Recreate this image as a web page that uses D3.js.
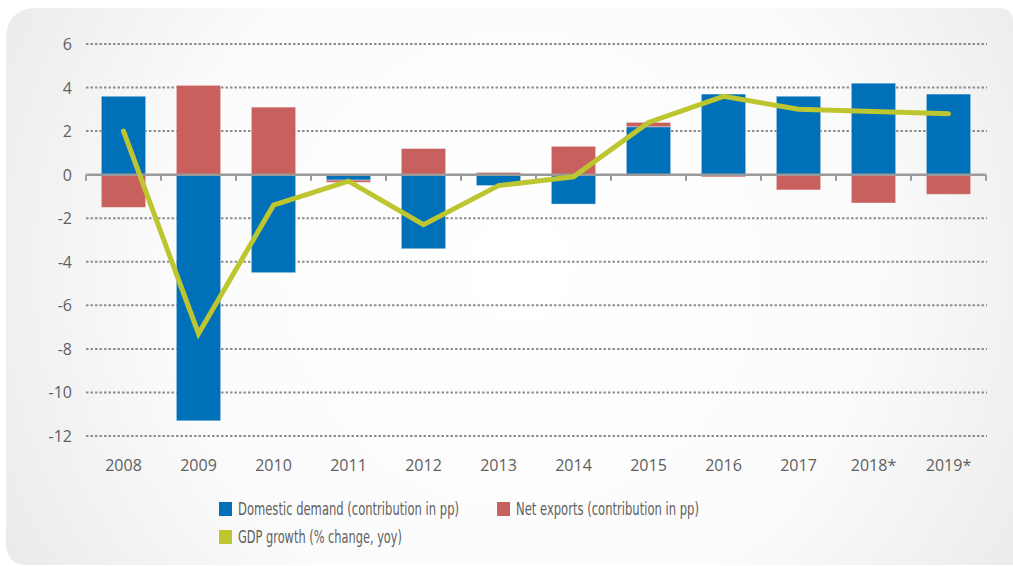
<!DOCTYPE html>
<html>
<head>
<meta charset="utf-8">
<script src="https://cdn.jsdelivr.net/npm/d3@7"></script>
<style>
  html, body { margin: 0; padding: 0; background: #ffffff; }
  svg { display: block; }
</style>
</head>
<body>
<svg id="chart" width="1013" height="566"></svg>
<script>
// ---- data ----
const years = ["2008", "2009", "2010", "2011", "2012", "2013", "2014", "2015", "2016", "2017", "2018*", "2019*"];
const domesticDemand = [3.6, -11.3, -4.5, -0.25, -3.4, -0.5, -1.35, 2.2, 3.7, 3.6, 4.2, 3.7];
const netExports = [-1.5, 4.1, 3.1, -0.1, 1.2, 0.1, 1.3, 0.2, -0.1, -0.7, -1.3, -0.9];
const gdpGrowth = [2.0, -7.3, -1.4, -0.3, -2.3, -0.5, -0.1, 2.4, 3.6, 3.0, 2.9, 2.8];
const yTicks = [6, 4, 2, 0, -2, -4, -6, -8, -10, -12];
const legendLabels = ["Domestic demand (contribution in pp)", "Net exports (contribution in pp)", "GDP growth (% change, yoy)"];

const colors = { domestic: "#0070b9", net: "#c8605d", gdp: "#bec62f" };
const labelFont = "'Open Sans', 'Noto Sans', sans-serif";
const legendFont = "'Liberation Sans Narrow', 'DejaVu Sans Condensed', 'Open Sans', sans-serif";

const svg = d3.select("#chart");

// ---- background panel ----
const defs = svg.append("defs");
const grad = defs.append("radialGradient")
  .attr("id", "bg").attr("gradientUnits", "userSpaceOnUse")
  .attr("cx", 520).attr("cy", 270).attr("r", 640);
grad.append("stop").attr("offset", "0").attr("stop-color", "#ffffff");
grad.append("stop").attr("offset", "0.55").attr("stop-color", "#fbfbfb");
grad.append("stop").attr("offset", "1").attr("stop-color", "#e6e7e8");

const px0 = 6, py0 = 8, px1 = 1013, py1 = 565;
const rTL = 32, rTR = 14, rBL = 22;
const panel = d3.path();
panel.moveTo(px0 + rTL, py0);
panel.lineTo(px1 - rTR, py0);
panel.quadraticCurveTo(px1, py0, px1, py0 + rTR);
panel.lineTo(px1, py1);
panel.lineTo(px0 + rBL, py1);
panel.quadraticCurveTo(px0, py1, px0, py1 - rBL);
panel.lineTo(px0, py0 + rTL);
panel.quadraticCurveTo(px0, py0, px0 + rTL, py0);
panel.closePath();
svg.append("path").attr("d", panel.toString()).attr("fill", "url(#bg)");

// ---- scales ----
const x0 = 86, x1 = 986;
const x = d3.scaleBand().domain(years).range([x0, x1]).paddingInner(0.41).paddingOuter(0.205);
const y = d3.scaleLinear().domain([-12, 6]).range([436, 44]);
const step = x.step();

// ---- grid lines ----
const grid = svg.append("g");
grid.selectAll("line").data(yTicks.filter(d => d !== 0)).join("line")
  .attr("x1", x0).attr("x2", x1 + 1)
  .attr("y1", d => y(d)).attr("y2", d => y(d))
  .attr("stroke", "#8e8e8e").attr("stroke-width", 2)
  .attr("stroke-dasharray", "2.5,2");

// ---- y labels ----
svg.append("g").selectAll("text").data(yTicks).join("text")
  .attr("x", 72).attr("y", d => y(d) + 6)
  .attr("text-anchor", "end")
  .attr("font-family", labelFont).attr("font-size", 16)
  .attr("fill", "#5f5f5f")
  .text(d => d < 0 ? "-" + Math.abs(d) : d);

// ---- stacked bars ----
const rows = years.map((yr, i) => ({ year: yr, domestic: domesticDemand[i], net: netExports[i] }));
const stack = d3.stack().keys(["domestic", "net"]).offset(d3.stackOffsetDiverging);
const series = stack(rows);
svg.append("g").selectAll("g").data(series).join("g")
  .attr("fill", d => colors[d.key])
  .selectAll("rect").data(d => d).join("rect")
  .attr("x", d => x(d.data.year))
  .attr("width", x.bandwidth())
  .attr("y", d => y(Math.max(d[0], d[1])))
  .attr("height", d => Math.abs(y(d[0]) - y(d[1])))
  .attr("stroke", "#ffffff").attr("stroke-opacity", 0.35).attr("stroke-width", 1);

// ---- zero axis ----
const axisG = svg.append("g");
axisG.append("line")
  .attr("x1", x0).attr("x2", x1)
  .attr("y1", y(0)).attr("y2", y(0))
  .attr("stroke", "#9a9a9a").attr("stroke-width", 2.5);
const boundaries = d3.range(years.length + 1).map(i => x0 + i * step);
axisG.selectAll("line.tick").data(boundaries).join("line")
  .attr("class", "tick")
  .attr("x1", d => d).attr("x2", d => d)
  .attr("y1", y(0)).attr("y2", y(0) + 6)
  .attr("stroke", "#9a9a9a").attr("stroke-width", 2);

// ---- x labels ----
svg.append("g").selectAll("text").data(years).join("text")
  .attr("x", d => x(d) + x.bandwidth() / 2)
  .attr("y", 471)
  .attr("text-anchor", "middle")
  .attr("font-family", labelFont).attr("font-size", 16)
  .attr("fill", "#5f5f5f")
  .text(d => d);

// ---- GDP line ----
const line = d3.line()
  .x((d, i) => x(years[i]) + x.bandwidth() / 2)
  .y(d => y(d));
svg.append("path").datum(gdpGrowth)
  .attr("d", line)
  .attr("fill", "none")
  .attr("stroke", colors.gdp).attr("stroke-width", 5)
  .attr("stroke-linecap", "round").attr("stroke-linejoin", "miter");

// ---- legend ----
const legendItems = [
  { label: legendLabels[0], color: colors.domestic, x: 219, y: 502, w: 221 },
  { label: legendLabels[1], color: colors.net, x: 497, y: 502, w: 183 },
  { label: legendLabels[2], color: colors.gdp, x: 219, y: 530, w: 164 }
];
const lg = svg.append("g").selectAll("g").data(legendItems).join("g");
lg.append("rect")
  .attr("x", d => d.x).attr("y", d => d.y)
  .attr("width", 13).attr("height", 14)
  .attr("fill", d => d.color);
lg.append("text")
  .attr("x", d => d.x + 19).attr("y", d => d.y + 13)
  .attr("font-family", legendFont).attr("font-size", 17.5)
  .attr("fill", "#5f5f5f")
  .attr("textLength", d => d.w).attr("lengthAdjust", "spacingAndGlyphs")
  .text(d => d.label);
</script>
</body>
</html>
